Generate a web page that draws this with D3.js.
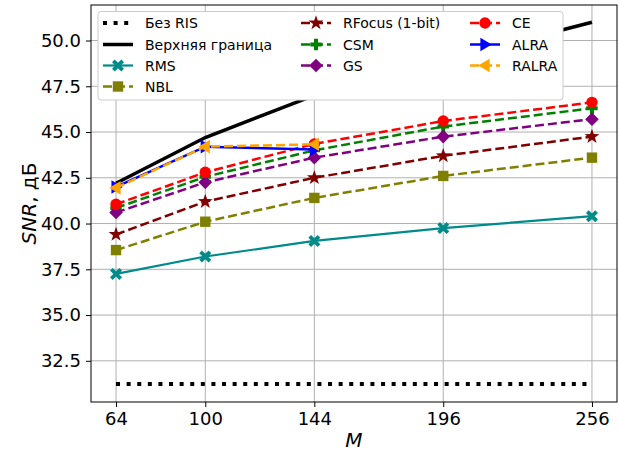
<!DOCTYPE html>
<html>
<head>
<meta charset="utf-8">
<script src="https://cdn.jsdelivr.net/npm/d3@7"></script>
<style>
  body { margin: 0; background: #fff; }
  svg { display: block; font-family: "DejaVu Sans", sans-serif; }
</style>
</head>
<body>
<div id="chart"></div>
<script>
// values
const M = [64, 100, 144, 196, 256];
const M_short = [64, 100, 144];
const noRIS = [31.24, 31.24, 31.24, 31.24, 31.24];
const upperBound = [42.2, 44.7, 47.0, 48.9, 51.0];
const rms = [37.25, 38.2, 39.05, 39.75, 40.4];
const nbl = [38.55, 40.1, 41.4, 42.6, 43.6];
const rfocus = [39.4, 41.2, 42.5, 43.7, 44.75];
const csm = [40.85, 42.55, 44.0, 45.3, 46.3];
const gs = [40.6, 42.25, 43.6, 44.75, 45.7];
const ce = [41.05, 42.8, 44.35, 45.6, 46.62];
const alra = [42.0, 44.2, 44.05];
const ralra = [41.95, 44.2, 44.33];
const yTicks = [32.5, 35.0, 37.5, 40.0, 42.5, 45.0, 47.5, 50.0];

const series = [
    {name: "Без RIS", x: M, y: noRIS, color: "#000", width: 4, dash: "4,6.6", marker: null},
    {name: "Верхняя граница", x: M, y: upperBound, color: "#000", width: 3.5, dash: null, marker: null},
    {name: "RMS", x: M, y: rms, color: "#008b8b", width: 2.2, dash: null, marker: "X"},
    {name: "NBL", x: M, y: nbl, color: "#808000", width: 2.5, dash: "9,4", marker: "s"},
    {name: "RFocus (1-bit)", x: M, y: rfocus, color: "#800000", width: 2.5, dash: "9,4", marker: "*"},
    {name: "CSM", x: M, y: csm, color: "#008000", width: 2.5, dash: "9,4", marker: "P"},
    {name: "GS", x: M, y: gs, color: "#800080", width: 2.5, dash: "9,4", marker: "D"},
    {name: "CE", x: M, y: ce, color: "#ff0000", width: 2.5, dash: "9,4", marker: "o"},
    {name: "ALRA", x: M_short, y: alra, color: "#0000ff", width: 2.5, dash: null, marker: ">"},
    {name: "RALRA", x: M_short, y: ralra, color: "#ffa500", width: 2.5, dash: "9,4", marker: "<"}
];

const width = 619, height = 452;
const plot = {left: 91, right: 617, top: 5, bottom: 402};

const svg = d3.select("#chart").append("svg")
    .attr("width", width)
    .attr("height", height);

const x = d3.scaleLinear().domain([53.9, 266.1]).range([plot.left, plot.right]);
const y = d3.scaleLinear().domain([30.25, 51.94]).range([plot.bottom, plot.top]);

// marker outlines, centred on 0,0
function markerPath(type) {
    const p = d3.path();
    if (type === "o") {
        p.arc(0, 0, 5.7, 0, 2 * Math.PI);
    } else if (type === "s") {
        p.rect(-5.2, -5.2, 10.4, 10.4);
    } else if (type === "D") {
        p.moveTo(0, -6.8); p.lineTo(6.8, 0); p.lineTo(0, 6.8); p.lineTo(-6.8, 0); p.closePath();
    } else if (type === "*") {
        for (let i = 0; i < 10; i++) {
            const r = i % 2 === 0 ? 7.8 : 3.1;
            const a = -Math.PI / 2 + i * Math.PI / 5;
            if (i === 0) p.moveTo(r * Math.cos(a), r * Math.sin(a));
            else p.lineTo(r * Math.cos(a), r * Math.sin(a));
        }
        p.closePath();
    } else if (type === "P") {
        const a = 5.7, b = 2;
        p.moveTo(-b, -a); p.lineTo(b, -a); p.lineTo(b, -b); p.lineTo(a, -b); p.lineTo(a, b);
        p.lineTo(b, b); p.lineTo(b, a); p.lineTo(-b, a); p.lineTo(-b, b); p.lineTo(-a, b);
        p.lineTo(-a, -b); p.lineTo(-b, -b); p.closePath();
    } else if (type === "X") {
        const pts = [[0, -2.7], [3.3, -6], [6, -3.3], [2.7, 0], [6, 3.3], [3.3, 6],
            [0, 2.7], [-3.3, 6], [-6, 3.3], [-2.7, 0], [-6, -3.3], [-3.3, -6]];
        pts.forEach((q, i) => i ? p.lineTo(q[0], q[1]) : p.moveTo(q[0], q[1]));
        p.closePath();
    } else if (type === ">") {
        p.moveTo(6.8, 0); p.lineTo(-4.6, -6.8); p.lineTo(-4.6, 6.8); p.closePath();
    } else if (type === "<") {
        p.moveTo(-6.8, 0); p.lineTo(4.6, -6.8); p.lineTo(4.6, 6.8); p.closePath();
    }
    return p.toString();
}

// grid
const grid = svg.append("g");
grid.selectAll("line.gx").data(M).enter().append("line")
    .attr("x1", d => x(d)).attr("x2", d => x(d))
    .attr("y1", plot.top).attr("y2", plot.bottom)
    .attr("stroke", "#b0b0b0").attr("stroke-width", 1);
grid.selectAll("line.gy").data(yTicks).enter().append("line")
    .attr("x1", plot.left).attr("x2", plot.right)
    .attr("y1", d => y(d)).attr("y2", d => y(d))
    .attr("stroke", "#b0b0b0").attr("stroke-width", 1);

// series
const line = d3.line();
const lines = svg.append("g");
series.forEach(function (s) {
    const pts = s.x.map((v, i) => [x(v), y(s.y[i])]);
    const g = lines.append("g");
    g.append("path")
        .attr("d", line(pts))
        .attr("fill", "none")
        .attr("stroke", s.color)
        .attr("stroke-width", s.width)
        .attr("stroke-dasharray", s.dash);
    if (s.marker) {
        g.selectAll("path.m").data(pts).enter().append("path")
            .attr("d", markerPath(s.marker))
            .attr("transform", d => `translate(${d[0]},${d[1]})`)
            .attr("fill", s.color);
    }
});

// axes
const xAxis = svg.append("g")
    .attr("transform", `translate(0,${plot.bottom})`)
    .call(d3.axisBottom(x).tickValues(M).tickSize(5).tickPadding(5));
const yAxis = svg.append("g")
    .attr("transform", `translate(${plot.left},0)`)
    .call(d3.axisLeft(y).tickValues(yTicks).tickFormat(d3.format(".1f")).tickSize(5).tickPadding(5));
[xAxis, yAxis].forEach(function (a) {
    a.select(".domain").remove();
    a.selectAll("text").attr("font-size", 18).attr("fill", "#000").attr("font-family", "DejaVu Sans");
    a.selectAll("line").attr("stroke", "#000").attr("stroke-width", 1);
});

svg.append("rect")
    .attr("x", plot.left).attr("y", plot.top)
    .attr("width", plot.right - plot.left).attr("height", plot.bottom - plot.top)
    .attr("fill", "none").attr("stroke", "#000").attr("stroke-width", 1);

// axis labels
svg.append("text")
    .attr("x", (plot.left + plot.right) / 2).attr("y", 447)
    .attr("text-anchor", "middle").attr("font-size", 20)
    .attr("font-style", "italic").text("M");

const yl = svg.append("text")
    .attr("transform", `translate(36,${(plot.top + plot.bottom) / 2}) rotate(-90)`)
    .attr("text-anchor", "middle").attr("font-size", 20);
yl.append("tspan").attr("font-style", "italic").text("SNR");
yl.append("tspan").text(", дБ");

// legend
const legend = svg.append("g");
legend.append("rect")
    .attr("x", 98).attr("y", 11.5).attr("width", 465).attr("height", 88.5)
    .attr("rx", 3).attr("fill", "#fff").attr("stroke", "#cccccc").attr("stroke-width", 1);

const colX = [103, 301, 470];
const rowY = [23, 44.5, 65.5, 86.5];
const colOf = [0, 0, 0, 0, 1, 1, 1, 2, 2, 2];
const rowOf = [0, 1, 2, 3, 0, 1, 2, 0, 1, 2];
series.forEach(function (s, i) {
    const hx = colX[colOf[i]], hy = rowY[rowOf[i]];
    const g = legend.append("g").attr("transform", `translate(${hx},${hy})`);
    g.append("line")
        .attr("x1", 0).attr("x2", 30).attr("y1", 0).attr("y2", 0)
        .attr("stroke", s.color).attr("stroke-width", s.width)
        .attr("stroke-dasharray", s.dash);
    if (s.marker) {
        g.append("path").attr("d", markerPath(s.marker))
            .attr("transform", "translate(15,0)").attr("fill", s.color);
    }
    g.append("text")
        .attr("x", 42).attr("y", 5)
        .attr("font-size", 14).attr("fill", "#000")
        .text(s.name);
});
</script>
</body>
</html>
